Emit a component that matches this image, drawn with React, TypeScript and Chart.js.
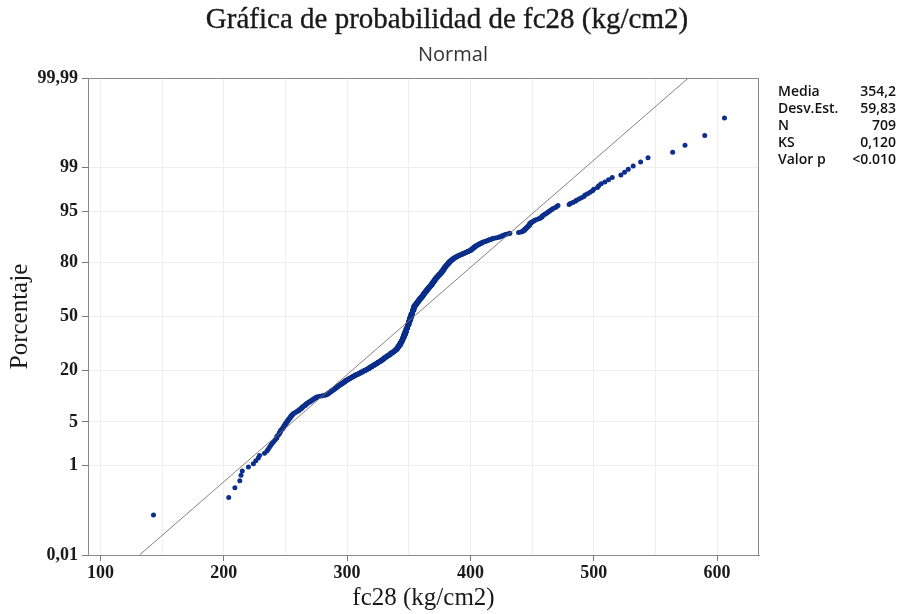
import React, { useEffect, useRef } from 'react';
import { Chart, registerables } from 'chart.js';
Chart.register(...registerables);

// ---- Data (sorted fc28 values) ----
const lowerTail = [143, 204, 209, 213, 214, 215, 220, 224, 226, 228, 229, 233, 235];
const bodyValues = [
  236, 237, 238, 239, 240, 241, 242, 243, 244, 245, 246, 247, 248, 249, 250, 251, 252, 253, 254, 255,
  256, 257, 258, 259, 260, 261, 262, 263, 264, 265, 266, 267, 268, 269, 270, 271, 272, 273, 274, 275,
  276, 278, 280, 282, 283, 284, 285, 286, 287, 288, 289, 290, 291, 292, 293, 294, 295, 296, 297, 298,
  299, 300, 301, 302, 303, 304, 305, 306, 307, 308, 309, 310, 311, 312, 313, 314, 315, 316, 317, 318,
  319, 320, 321, 322, 323, 324, 325, 326, 327, 328, 329, 330, 331, 332, 333, 334, 335, 336, 337, 338,
  339, 340, 341, 342, 343, 344, 345, 346, 347, 348, 349, 350, 351, 352, 353, 354, 355, 356, 357, 358,
  359, 360, 361, 362, 363, 364, 365, 366, 367, 368, 369, 370, 371, 372, 373, 374, 375, 376, 377, 378,
  379, 380, 381, 382, 383, 384, 385, 386, 387, 388, 389, 390, 391, 392, 393, 394, 395, 396, 397, 398,
  399, 400, 401, 402, 403, 404, 405, 406, 407, 408, 409, 410, 411, 412, 413, 414, 415, 416, 417, 418,
  419, 421, 423, 424, 425, 426, 427, 428, 429, 431, 432, 439, 441, 442, 443, 444, 445, 446, 447, 448,
  449, 450, 451, 452, 453, 455, 456
];
const bodyCounts = [
  1, 1, 1, 1, 1, 1, 1, 2, 1, 2, 2, 1, 2, 2, 2, 2, 2, 2, 2, 2,
  2, 1, 1, 1, 1, 2, 1, 2, 2, 1, 2, 2, 1, 2, 1, 2, 1, 2, 1, 2,
  1, 1, 1, 1, 1, 2, 2, 2, 2, 2, 2, 2, 2, 3, 2, 2, 2, 2, 2, 3,
  2, 2, 2, 2, 2, 2, 2, 2, 2, 1, 2, 2, 2, 2, 2, 2, 2, 2, 2, 3,
  2, 3, 2, 3, 2, 3, 3, 2, 3, 3, 3, 4, 3, 3, 3, 3, 4, 3, 3, 4,
  4, 4, 7, 7, 9, 9, 12, 13, 13, 15, 15, 16, 16, 16, 16, 16, 8, 7, 7, 7,
  6, 7, 6, 7, 7, 7, 6, 6, 5, 6, 7, 6, 7, 6, 5, 5, 4, 5, 6, 6,
  6, 5, 4, 5, 4, 3, 3, 3, 2, 2, 2, 2, 1, 2, 1, 2, 1, 2, 1, 2,
  1, 2, 3, 2, 3, 2, 2, 1, 2, 1, 2, 1, 1, 1, 1, 1, 1, 1, 1, 1,
  1, 1, 1, 1, 1, 1, 1, 1, 1, 1, 1, 1, 1, 1, 2, 2, 2, 2, 2, 3,
  2, 1, 1, 1, 1, 1, 1
];
const upperTail = [
  457, 458, 458, 459, 460, 461, 462, 463, 464, 465, 466, 467, 469, 470, 471,
  480, 481, 483, 485, 486, 488, 490, 492, 493, 495, 497, 499, 500, 503, 504,
  506, 509, 512, 515, 522, 525, 528, 532, 538, 544, 564, 574, 590, 606
];

const fitMean = 354.2;
const fitSd = 59.83;

const yTickPercents = [0.01, 1, 5, 20, 50, 80, 95, 99, 99.99];
const yTickLabels = ['0,01', '1', '5', '20', '50', '80', '95', '99', '99,99'];
const xTickValues = [100, 150, 200, 250, 300, 350, 400, 450, 500, 550, 600];
const xLabelled = [100, 200, 300, 400, 500, 600];

const statLabels = ['Media', 'Desv.Est.', 'N', 'KS', 'Valor p'];
const statValues = ['354,2', '59,83', '709', '0,120', '<0.010'];

const titleText = 'Gráfica de probabilidad de fc28 (kg/cm2)';
const subtitleText = 'Normal';
const xTitle = 'fc28 (kg/cm2)';
const yTitle = 'Porcentaje';

// inverse standard normal CDF (probability scale transform)
function probit(p: number): number {
  const a = [-3.969683028665376e1, 2.209460984245205e2, -2.759285104469687e2, 1.38357751867269e2, -3.066479806614716e1, 2.506628277459239];
  const b = [-5.447609879822406e1, 1.615858368580409e2, -1.556989798598866e2, 6.680131188771972e1, -1.328068155288572e1];
  const c = [-7.784894002430293e-3, -3.223964580411365e-1, -2.400758277161838, -2.549732539343734, 4.374664141464968, 2.938163982698783];
  const d = [7.784695709041462e-3, 3.224671290700398e-1, 2.445134137142996, 3.754408661907416];
  const pl = 0.02425;
  if (p < pl) {
    const q = Math.sqrt(-2 * Math.log(p));
    return (((((c[0] * q + c[1]) * q + c[2]) * q + c[3]) * q + c[4]) * q + c[5]) / ((((d[0] * q + d[1]) * q + d[2]) * q + d[3]) * q + 1);
  }
  if (p <= 1 - pl) {
    const q = p - 0.5;
    const r = q * q;
    return ((((((a[0] * r + a[1]) * r + a[2]) * r + a[3]) * r + a[4]) * r + a[5]) * q) / (((((b[0] * r + b[1]) * r + b[2]) * r + b[3]) * r + b[4]) * r + 1);
  }
  const q = Math.sqrt(-2 * Math.log(1 - p));
  return -(((((c[0] * q + c[1]) * q + c[2]) * q + c[3]) * q + c[4]) * q + c[5]) / ((((d[0] * q + d[1]) * q + d[2]) * q + d[3]) * q + 1);
}

function buildSorted(): number[] {
  const out: number[] = [...lowerTail];
  bodyValues.forEach((v, i) => {
    for (let k = 0; k < bodyCounts[i]; k++) out.push(v);
  });
  out.push(...upperTail);
  return out;
}

export default function App() {
  const ref = useRef<HTMLCanvasElement | null>(null);

  useEffect(() => {
    const canvas = ref.current;
    if (!canvas) return;
    const sorted = buildSorted();
    const n = sorted.length;
    const points = sorted.map((v, i) => ({ x: v, y: probit((i + 1 - 0.3) / (n + 0.4)) }));
    const zMin = probit(yTickPercents[0] / 100);
    const zMax = probit(yTickPercents[yTickPercents.length - 1] / 100);
    const fitLine = [
      { x: fitMean + fitSd * zMin, y: zMin },
      { x: fitMean + fitSd * zMax, y: zMax },
    ];

    const textPlugin = {
      id: 'texts',
      afterDraw(chart: any) {
        const ctx = chart.ctx;
        const ca = chart.chartArea;
        ctx.save();
        // frame
        ctx.strokeStyle = '#8a8a8a';
        ctx.lineWidth = 1;
        ctx.strokeRect(ca.left + 0.5, ca.top + 0.5, ca.right - ca.left - 1, ca.bottom - ca.top);
        // title
        ctx.fillStyle = '#1a1a1a';
        ctx.strokeStyle = '#1a1a1a';
        ctx.lineWidth = 0.35;
        ctx.textAlign = 'center';
        ctx.textBaseline = 'middle';
        ctx.font = '29px "Liberation Serif"';
        ctx.fillText(titleText, 447, 20);
        ctx.strokeText(titleText, 447, 20);
        ctx.fillStyle = '#333333';
        ctx.font = '20px "Open Sans"';
        ctx.fillText(subtitleText, 453, 55);
        // axis titles
        ctx.fillStyle = '#1a1a1a';
        ctx.font = '25px "Liberation Serif"';
        ctx.fillText(xTitle, (ca.left + ca.right) / 2, 598);
        ctx.save();
        ctx.translate(20, (ca.top + ca.bottom) / 2);
        ctx.rotate(-Math.PI / 2);
        ctx.fillText(yTitle, 0, 0);
        ctx.restore();
        // stats box
        ctx.font = '600 14px "Open Sans"';
        ctx.fillStyle = '#111111';
        statLabels.forEach((lab, i) => {
          const y = 92 + i * 16.9;
          ctx.textAlign = 'left';
          ctx.fillText(lab, 778, y);
          ctx.textAlign = 'right';
          ctx.fillText(statValues[i], 896, y);
        });
        ctx.restore();
      },
    };

    const tickFont = { family: 'Liberation Serif', size: 18, weight: 'bold' };

    const chart = new Chart(canvas, {
      type: 'scatter',
      data: {
        datasets: [
          {
            label: 'fit',
            data: fitLine,
            showLine: true,
            borderColor: '#7d7272',
            borderWidth: 0.9,
            pointRadius: 0,
            order: 0,
          } as any,
          {
            label: 'fc28',
            data: points,
            backgroundColor: '#0b2f8a',
            borderWidth: 0,
            pointRadius: 2.5,
            order: 1,
          },
        ],
      },
      options: {
        animation: false,
        responsive: false,
        devicePixelRatio: 1,
        layout: { padding: { top: 78, right: 139, left: 0, bottom: 0 } },
        plugins: { legend: { display: false }, tooltip: { enabled: false }, title: { display: false } },
        scales: {
          x: {
            type: 'linear',
            min: 89.9,
            max: 634,
            afterFit: (s: any) => { s.height = 59; },
            afterBuildTicks: (s: any) => { s.ticks = xTickValues.map((v) => ({ value: v })); },
            ticks: {
              autoSkip: false,
              maxRotation: 0,
              padding: 2,
              color: '#1a1a1a',
              font: tickFont,
              callback: (v: any) => (xLabelled.includes(Number(v)) ? String(v) : ''),
            },
            grid: {
              color: '#eeeeee',
              tickLength: 6,
              tickColor: (c: any) => (c.tick && xLabelled.includes(c.tick.value) ? '#777777' : 'rgba(0,0,0,0)'),
            },
            border: { color: '#8a8a8a' },
          },
          y: {
            type: 'linear',
            min: zMin,
            max: zMax,
            afterFit: (s: any) => { s.width = 88; },
            afterBuildTicks: (s: any) => { s.ticks = yTickPercents.map((p) => ({ value: probit(p / 100) })); },
            ticks: {
              autoSkip: false,
              padding: 4,
              color: '#1a1a1a',
              font: tickFont,
              callback: (_v: any, i: number) => yTickLabels[i],
            },
            grid: { color: '#eeeeee', tickLength: 6, tickColor: '#777777' },
            border: { color: '#8a8a8a' },
          },
        },
      },
      plugins: [textPlugin],
    } as any);
    return () => chart.destroy();
  }, []);

  return (
    <div style={{ position: 'fixed', left: 0, top: 0, width: 898, height: 614, background: '#ffffff' }}>
      <canvas ref={ref} width={898} height={614} style={{ display: 'block' }} />
    </div>
  );
}
